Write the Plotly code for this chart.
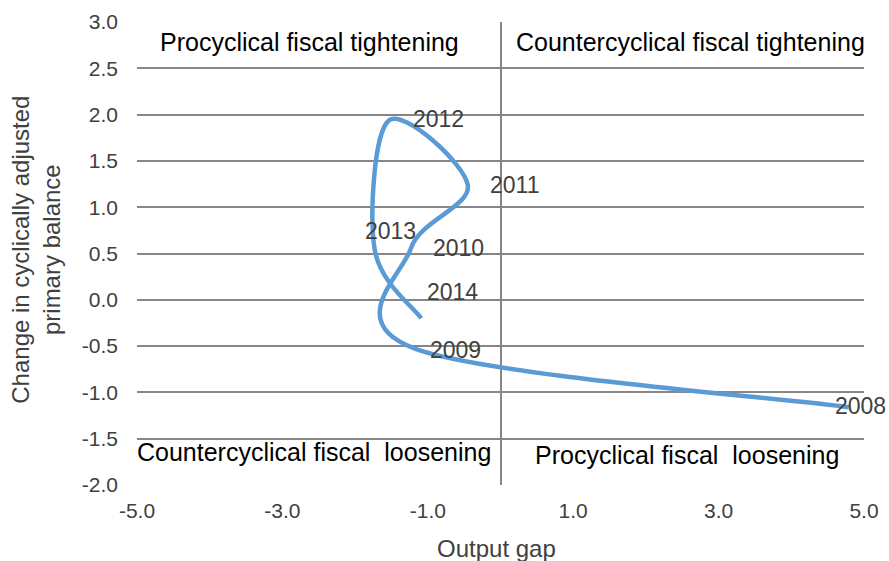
import plotly.graph_objects as go

# fiscal stance vs output gap
years = ["2008", "2009", "2010", "2011", "2012", "2013", "2014"]
output_gap = [4.79, -1.17, -1.23, -0.45, -1.53, -1.73, -1.09]
cab_change = [-1.16, -0.53, 0.56, 1.24, 1.94, 0.54, -0.20]

x_ticks = [-5, -3, -1, 1, 3, 5]
y_ticks = [-2.0, -1.5, -1.0, -0.5, 0.0, 0.5, 1.0, 1.5, 2.0, 2.5, 3.0]

quad_text = ["Procyclical fiscal tightening", "Countercyclical fiscal tightening",
             "Countercyclical fiscal  loosening", "Procyclical fiscal  loosening"]
quad_x = [-2.63, 2.62, -2.57, 2.57]
quad_y = [2.78, 2.78, -1.64, -1.68]

# label offsets in px (x, y) relative to the point
lbl_off = {"2008": (12, 1), "2009": (40, -1), "2010": (47, 0), "2011": (47, 0),
           "2012": (49, 1), "2013": (16, 19), "2014": (31, 26)}

FONT = "Liberation Sans, Arial, sans-serif"
GRID = "#868686"
TXT = "#404040"


def smooth_path(xs, ys):
    # excel style smoothed line: cubic bezier, control points at 1/6 of neighbour span
    pts = list(zip(xs, ys))
    n = len(pts)
    d = "M %f,%f" % pts[0]
    for i in range(n - 1):
        p0 = pts[i - 1] if i > 0 else pts[i]
        p1 = pts[i]
        p2 = pts[i + 1]
        p3 = pts[i + 2] if i + 2 < n else pts[i + 1]
        c1 = (p1[0] + (p2[0] - p0[0]) / 6, p1[1] + (p2[1] - p0[1]) / 6)
        c2 = (p2[0] - (p3[0] - p1[0]) / 6, p2[1] - (p3[1] - p1[1]) / 6)
        d += " C %f,%f %f,%f %f,%f" % (c1 + c2 + p2)
    return d


fig = go.Figure()
fig.add_shape(type="path", xref="x", yref="y", path=smooth_path(output_gap, cab_change),
              line=dict(color="#5B9BD5", width=4.5))

for yr, xv, yv in zip(years, output_gap, cab_change):
    dx, dy = lbl_off[yr]
    fig.add_annotation(x=xv, y=yv, text=yr, showarrow=False, xshift=dx, yshift=dy,
                       font=dict(size=23, color=TXT, family=FONT))

for t, xv, yv in zip(quad_text, quad_x, quad_y):
    fig.add_annotation(x=xv, y=yv, text=t, showarrow=False,
                       font=dict(size=25, color="#000000", family=FONT))

# axis titles
fig.add_annotation(xref="paper", yref="paper", x=0.495, y=-0.138, xanchor="center",
                   yanchor="middle", text="Output gap", showarrow=False,
                   font=dict(size=24, color=TXT, family=FONT))
fig.add_annotation(xref="paper", yref="paper", x=-0.139, y=0.508, xanchor="center",
                   yanchor="middle", textangle=-90,
                   text="Change in cyclically adjusted<br>primary balance", showarrow=False,
                   font=dict(size=24, color=TXT, family=FONT))

fig.update_xaxes(range=[-5, 5], tickvals=x_ticks, ticktext=["%.1f" % v for v in x_ticks],
                 showgrid=False, zeroline=True, zerolinecolor=GRID, zerolinewidth=2,
                 showline=False, ticks="", automargin=False, ticklabelstandoff=11,
                 tickfont=dict(size=21, color=TXT, family=FONT))
fig.update_yaxes(range=[-2, 3], tickvals=y_ticks, ticktext=["%.1f" % v for v in y_ticks],
                 showgrid=True, gridcolor=GRID, gridwidth=2, zeroline=False,
                 showline=False, ticks="", automargin=False, ticklabelstandoff=18,
                 tickfont=dict(size=21, color=TXT, family=FONT))

fig.update_layout(width=889, height=561, margin=dict(l=137, r=25, t=22, b=76),
                  plot_bgcolor="white", paper_bgcolor="white")

# drop the default page margin so the figure fills the window
fig.write_html("out.html", config={"displayModeBar": False},
               post_script="document.body.style.margin='0px';")
